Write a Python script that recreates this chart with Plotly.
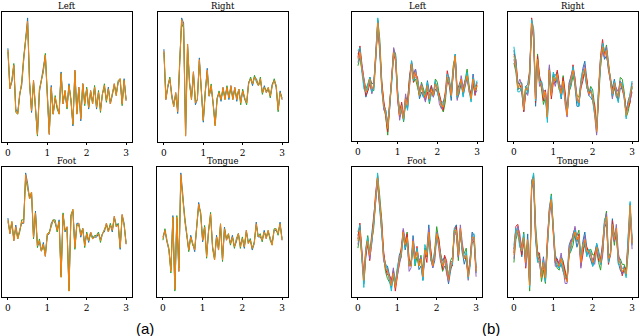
import numpy as np
import plotly.graph_objects as go

# time axis (seconds)
t = np.round(np.linspace(0, 3, 61), 2)
x_ticks = [0, 1, 2, 3]
classes = ["Left", "Right", "Foot", "Tongue"]

# ---- (a) class-averaged signals (arbitrary units) ----
a_left = [28, 5, 10, 19, -8, -10, 2, 8, 22, 36,
          45, 8, -8, 10, -8, -22, 4, 10, 16, 25,
          2, -22, 6, -10, 0, -6, -10, 14, -4, 4,
          -6, 7, -2, -16, 16, -10, 6, -13, 8, -4,
          5, -6, 4, -4, 6, -6, 3, -8, 2, 7,
          -2, 5, -4, 2, 8, 1, 9, 11, -4, 10,
          -2]
a_right = [24, -4, 4, 8, -2, -8, 0, -11, 16, 42,
           38, -25, 28, 6, -4, 12, -6, -4, 19, 2,
           -16, 0, 13, -2, 4, -6, -19, -4, 0, -4,
           3, -4, 3, -3, 4, -4, 3, -4, 2, -6,
           1, -3, -6, 5, 8, 5, 9, 7, 4, 8,
           0, 3, 0, 3, -2, 4, 7, 4, -10, 0,
           -4]
a_foot = [8, 0, 7, -4, 4, -3, 2, 7, 6, 34,
          27, 20, 24, -2, 12, -7, -4, -10, -6, -13,
          0, 0, 5, 8, 7, 2, 7, -25, 11, 2,
          4, -33, 10, 14, -8, 5, 6, -1, 3, -7,
          0, -4, 1, -3, -2, -1, 0, -4, 0, 2,
          6, 1, 5, 2, 10, 4, 5, -8, 11, 5,
          -6]
a_tongue = [0, 5, -1, -7, -20, 13, -31, 13, -20, 39,
            25, 11, 3, -7, 1, -3, -7, 7, 21, 15,
            -1, 7, -11, 5, 15, -5, -13, 1, -7, 9,
            -13, 6, -1, 3, -3, 1, -5, -1, 3, -5,
            0, -5, 5, -3, -1, -6, -3, 9, 1, 2,
            -1, 4, 0, 5, 0, -4, 5, 6, 3, 9,
            -1]
# small trial-to-trial deviations seen in (a)
a_dev1 = [1, 0, -1, 0, 1, 1, 0, -1, 0, 1,
          2, 0, -1, 0, 1, 0, -1, 0, 1, 0,
          -1, 0, 1, 0, -1, 0, 1, 1, 0, -1,
          0, 1, 0, -1, 0, 1, 0, -1, 0, 1,
          0, -1, 0, 1, 0, -1, 0, 1, 0, -1,
          0, 1, 0, -1, 0, 1, 0, -1, 0, 1,
          0]
a_dev2 = [-1, 1, 0, 1, -1, 0, -1, 1, 2, -2,
          -1, 1, 0, -1, 0, -1, 1, 0, -1, 1,
          0, 1, -1, 0, 1, -1, 0, 0, 1, 0,
          -1, 0, 1, 0, -1, 0, -1, 1, 0, -1,
          1, 0, -1, 0, 1, 0, 1, -1, 0, 1,
          -1, 0, 1, 0, -1, 0, 1, 0, -1, 0,
          1]

# ---- (b) signals ----
b_left = [20, 24, 14, 6, 0, 2, 8, 2, 4, 22,
          42, 28, 4, -8, -13, -22, -8, 8, 24, 20,
          -2, -14, -8, -16, -4, -8, 6, 17, 8, 12,
          6, -2, 4, -1, -3, 4, -4, 2, -2, 5,
          2, -4, -8, -9, -2, 9, 6, -2, 14, 22,
          -2, 2, 8, 0, 6, 10, 2, -4, 8, 1,
          4]
b_right = [20, 14, 2, 4, 3, -10, 2, 1, 10, 38,
           32, -4, 18, 6, 4, -3, 0, -14, 12, -2,
           8, 6, 10, 3, -1, 6, -4, -13, 2, 7,
           12, 5, -4, -6, 4, 10, 13, 5, -1, 0,
           -3, -10, -22, 0, 18, 25, 20, 23, 15, 6,
           -1, 5, 0, -3, 5, 3, -2, -13, -8, -3,
           3]
b_foot = [8, 14, 0, -14, 2, 8, 0, 9, 18, 32,
          43, 30, 18, 0, -7, -9, -12, -17, -10, -18,
          -10, -3, 2, 13, 6, 10, -6, -6, 8, -2,
          2, -6, -2, -12, 3, 0, 13, 0, -6, 0,
          12, 7, -2, -6, -2, -7, -14, -6, -3, 14,
          14, 0, 15, 4, -2, 0, -12, -4, 10, 10,
          -9]
b_tongue = [-2, 9, 11, 6, 0, 7, -6, 6, -18, 34,
            38, 10, -3, -4, -14, -6, -14, 4, 20, 27,
            12, -5, -6, -8, -4, -8, -14, -16, 0, 4,
            6, 10, 6, 8, -6, 2, 6, 0, 0, -2,
            -6, -4, 2, -3, -6, 0, 14, 18, -4, -2,
            14, 6, 12, -4, -7, -11, -9, -12, 2, 24,
            4]
b_dev1 = [3, 2, 0, -2, -3, -1, 1, 3, 2, 0,
          -3, -4, -2, 1, 2, 3, 1, -1, -2, 0,
          2, 3, 1, -1, -3, -2, 0, 2, 3, 2,
          0, -2, -4, -2, 1, 3, 4, 2, -1, -3,
          -2, 0, 2, 3, 1, -1, -2, -3, -1, 1,
          3, 2, 0, -2, -3, -1, 1, 2, 3, 1,
          -1]
b_dev2 = [-4, -3, -1, 1, 2, 3, 1, -1, -3, -2,
          2, 4, 3, 0, -2, -4, -3, 0, 2, 3,
          1, -1, -3, -2, 1, 3, 2, 0, -2, -4,
          -3, 0, 2, 3, 1, -1, -3, -2, 0, 3,
          4, 2, -1, -3, -4, -1, 1, 3, 2, 0,
          -2, -3, -1, 1, 3, 4, 2, -1, -3, -2,
          0]
b_dev3 = [1, 4, 3, 0, -2, -1, -3, -2, 1, 3,
          1, -2, 2, 3, 0, -2, 1, 3, 1, -2,
          -3, -1, 2, 1, -1, 2, 4, 1, -2, -1,
          3, 2, -1, 1, -2, -4, -1, 2, 0, 1,
          -1, 3, 1, -2, 2, 4, 1, -1, -3, 0,
          2, -1, -3, -1, 1, -2, 0, 3, -1, -3,
          2]
b_dev4 = [-2, -1, 2, 3, 1, 0, -2, -3, 0, -1,
          -2, 1, -1, -3, 1, 2, -2, 1, 3, 1,
          -1, -3, -2, 2, 3, -1, -3, -1, 1, 2,
          1, 3, 1, -1, -3, 1, 2, -2, -1, 0,
          1, -3, -2, 1, -1, -3, -1, 2, 0, -1,
          -3, -1, 2, 3, 1, -1, -2, 1, 2, -2,
          -3]
b_dev5 = [5, 3, -2, -4, 0, 2, 1, -2, -1, 2,
          3, -1, -3, -1, 2, 1, -2, -3, 0, 2,
          3, 1, -2, -1, -2, -3, 1, 2, -1, -3,
          2, 1, -1, -2, 3, 2, -2, -3, 1, 2,
          -2, -1, 2, 1, -1, 2, 3, -1, -2, 1,
          -1, 1, -2, -3, 0, 2, -1, -2, 1, 2,
          3]

C = {"blue": "#1f77b4", "orange": "#ff7f0e", "green": "#2ca02c", "red": "#d62728",
     "purple": "#9467bd", "pink": "#e377c2", "cyan": "#17becf", "olive": "#bcbd22"}

a_devs = [(a_dev1, C["blue"]), (a_dev2, C["green"])]
b_devs = [(b_dev1, C["blue"]), (b_dev2, C["green"]), (b_dev3, C["red"]),
          (b_dev4, C["purple"]), (b_dev5, C["cyan"])]

W, H = 640, 336
# pixel boxes (x0, x1, y0, y1)
panels = [
    ("Left", a_left, a_devs, (2, 132, 12, 142)),
    ("Right", a_right, a_devs, (158, 288, 12, 142)),
    ("Foot", a_foot, a_devs, (2, 132, 167, 297)),
    ("Tongue", a_tongue, a_devs, (157, 288, 167, 297)),
    ("Left", b_left, b_devs, (352, 483, 12, 141)),
    ("Right", b_right, b_devs, (508, 638, 12, 141)),
    ("Foot", b_foot, b_devs, (352, 482, 167, 297)),
    ("Tongue", b_tongue, b_devs, (508, 638, 167, 297)),
]

fig = go.Figure()
annotations = []
for k, (title, base, devs, box) in enumerate(panels):
    n = k + 1
    xa = "x" if n == 1 else f"x{n}"
    ya = "y" if n == 1 else f"y{n}"
    base_arr = np.array(base, dtype=float)
    series = [(base_arr + np.array(d, dtype=float), c) for d, c in devs] + [(base_arr, C["orange"])]
    allv = np.concatenate([s for s, _ in series])
    lo, hi = allv.min(), allv.max()
    pad = 0.05 * (hi - lo)
    for s, c in series:
        fig.add_trace(go.Scatter(x=t, y=s, mode="lines", line=dict(color=c, width=1),
                                 xaxis=xa, yaxis=ya, showlegend=False, hoverinfo="skip"))
    x0, x1, y0, y1 = box
    fig.update_layout(**{
        ("xaxis" if n == 1 else f"xaxis{n}"): dict(
            domain=[x0 / W, x1 / W], range=[-0.15, 3.15], anchor=ya,
            tickvals=x_ticks, ticktext=[str(v) for v in x_ticks],
            ticks="outside", ticklen=2, tickwidth=1, tickcolor="black",
            showline=True, mirror=True, linecolor="black", linewidth=1,
            showgrid=False, zeroline=False,
            tickfont=dict(family="DejaVu Serif", size=9, color="black")),
        ("yaxis" if n == 1 else f"yaxis{n}"): dict(
            domain=[1 - y1 / H, 1 - y0 / H], range=[lo - pad, hi + pad], anchor=xa,
            showticklabels=False, ticks="", showline=True, mirror=True,
            linecolor="black", linewidth=1, showgrid=False, zeroline=False),
    })
    annotations.append(dict(text=title, x=(x0 + x1) / 2 / W, y=1 - y0 / H,
                            xref="paper", yref="paper", xanchor="center", yanchor="bottom",
                            yshift=-1, showarrow=False,
                            font=dict(family="DejaVu Serif", size=8.5, color="#000000")))

annotations.append(dict(text="(a)", x=145 / W, y=1 - 328 / H, xref="paper", yref="paper",
                        xanchor="center", yanchor="middle", showarrow=False,
                        font=dict(family="Liberation Sans", size=15, color="black")))
annotations.append(dict(text="(b)", x=491 / W, y=1 - 328 / H, xref="paper", yref="paper",
                        xanchor="center", yanchor="middle", showarrow=False,
                        font=dict(family="Liberation Sans", size=15, color="black")))

fig.update_layout(width=W, height=H, margin=dict(l=0, r=0, t=0, b=0),
                  paper_bgcolor="white", plot_bgcolor="white",
                  annotations=annotations)
fig.write_html("out.html", config={"displayModeBar": False, "staticPlot": True},
               post_script="document.body.style.margin='0px';document.body.style.overflow='hidden';")
